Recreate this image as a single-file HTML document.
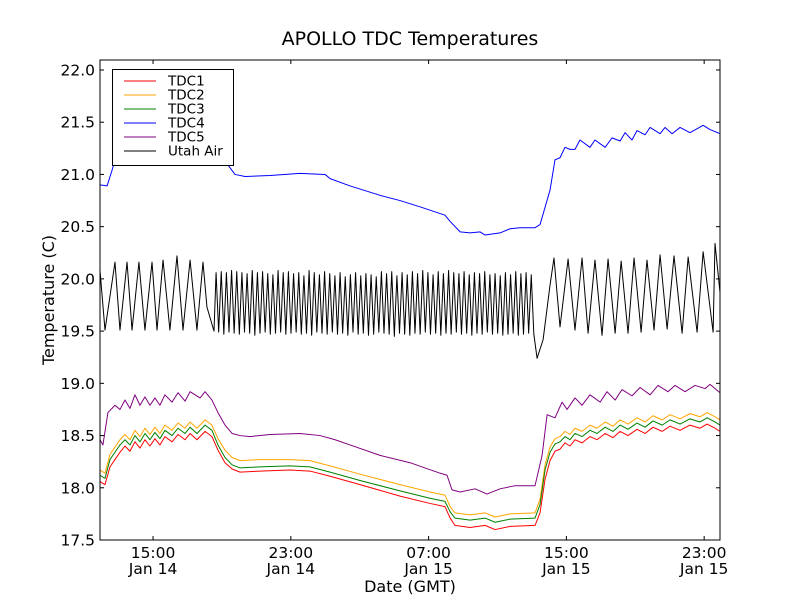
<!DOCTYPE html>
<html><head><meta charset="utf-8"><style>
html,body{margin:0;padding:0;background:#fff;}
svg{display:block;font-family:"DejaVu Sans","Liberation Sans",sans-serif;}
</style></head><body>
<svg id="chart" width="800" height="600" viewBox="0 0 800 600">
<rect x="0" y="0" width="800" height="600" fill="#fff"/>
<text x="410" y="45" font-size="19" text-anchor="middle">APOLLO TDC Temperatures</text>
<text x="410" y="592" font-size="16" text-anchor="middle">Date (GMT)</text>
<text x="54" y="300" font-size="16" text-anchor="middle" transform="rotate(-90 54 300)">Temperature (C)</text>
<defs><clipPath id="plotclip"><rect x="100" y="60" width="620" height="480"/></clipPath></defs>
<g id="series" clip-path="url(#plotclip)"></g>
<g id="axes"></g>
<g id="legend"></g>
</svg>
<script>
// time in hours since 11:55 Jan 14 (GMT)
const xTickPos = [3.08, 11.08, 19.08, 27.08, 35.08];
const xTickTime = ["15:00","23:00","07:00","15:00","23:00"];
const xTickDay = ["Jan 14","Jan 14","Jan 15","Jan 15","Jan 15"];
const yTicks = [17.5,18.0,18.5,19.0,19.5,20.0,20.5,21.0,21.5,22.0];
const yTickLabels = ["17.5","18.0","18.5","19.0","19.5","20.0","20.5","21.0","21.5","22.0"];

const tdcT = [0,.29,.58,.87,1.16,1.45,1.74,2.03,2.32,2.61,2.90,3.19,3.48,3.77,4.18,4.53,4.94,5.23,5.63,6.10,6.50,6.85,7.26,7.67,8.13,9.29,11.03,12.19,13.36,15.10,17.42,19.16,20.03,20.33,20.61,21.49,22.36,22.94,23.81,25.26,25.55,25.84,26.13,26.42,26.71,27.00,27.29,27.58,27.99,28.45,28.86,29.33,29.79,30.20,30.66,31.18,31.65,32.11,32.64,33.10,33.68,34.26,34.84,35.25,35.71,36.0];
const tdc1 = [18.06,18.03,18.20,18.27,18.34,18.40,18.35,18.44,18.38,18.46,18.40,18.47,18.41,18.49,18.44,18.51,18.46,18.52,18.46,18.54,18.49,18.36,18.24,18.18,18.15,18.16,18.17,18.16,18.11,18.03,17.92,17.85,17.82,17.71,17.64,17.62,17.64,17.60,17.63,17.64,17.76,18.08,18.26,18.35,18.37,18.43,18.40,18.46,18.43,18.49,18.46,18.52,18.48,18.54,18.50,18.56,18.52,18.58,18.54,18.59,18.55,18.60,18.57,18.61,18.57,18.54];
const tdc2 = [18.17,18.14,18.32,18.39,18.46,18.51,18.46,18.55,18.49,18.57,18.51,18.58,18.52,18.60,18.55,18.62,18.57,18.63,18.57,18.65,18.60,18.47,18.36,18.29,18.26,18.27,18.27,18.26,18.21,18.13,18.03,17.96,17.93,17.82,17.76,17.74,17.76,17.72,17.75,17.76,17.89,18.22,18.39,18.47,18.49,18.54,18.51,18.57,18.54,18.60,18.57,18.63,18.59,18.65,18.61,18.67,18.63,18.69,18.65,18.70,18.66,18.71,18.68,18.72,18.68,18.65];
const tdc3 = [18.12,18.09,18.27,18.34,18.41,18.46,18.41,18.50,18.44,18.52,18.46,18.53,18.47,18.55,18.50,18.57,18.52,18.58,18.52,18.60,18.55,18.41,18.29,18.22,18.19,18.20,18.21,18.20,18.15,18.07,17.97,17.90,17.87,17.77,17.71,17.69,17.71,17.67,17.70,17.71,17.84,18.17,18.34,18.42,18.44,18.49,18.46,18.52,18.49,18.55,18.52,18.58,18.54,18.60,18.56,18.62,18.58,18.64,18.60,18.65,18.61,18.66,18.63,18.67,18.63,18.60];

const tdc4T = [0,.41,.70,1.05,7.43,7.84,8.42,9.87,11.61,13.07,13.36,14.52,16.26,17.42,18.58,20.03,20.33,20.91,21.49,22.07,22.36,23.23,23.81,24.39,25.26,25.55,26.13,26.42,26.71,27.00,27.29,27.58,27.87,28.45,28.74,29.33,29.73,30.20,30.49,30.89,31.18,31.65,31.94,32.52,32.81,33.22,33.68,34.26,35.02,35.42,36.0];
const tdc4 = [20.90,20.89,21.04,21.24,21.09,21.0,20.98,20.99,21.01,21.0,20.96,20.89,20.80,20.75,20.69,20.61,20.55,20.45,20.44,20.45,20.42,20.44,20.48,20.49,20.49,20.52,20.85,21.14,21.16,21.26,21.24,21.24,21.33,21.26,21.33,21.26,21.35,21.32,21.40,21.33,21.42,21.38,21.45,21.39,21.45,21.39,21.45,21.40,21.47,21.43,21.39];

const tdc5T = [0,.17,.46,.87,1.16,1.45,1.74,2.03,2.32,2.61,2.90,3.19,3.48,3.77,4.18,4.53,4.94,5.23,5.81,6.10,6.50,6.85,7.26,7.67,8.13,8.71,9.87,11.61,12.78,13.65,14.52,16.26,18.00,19.74,20.15,20.44,20.91,21.78,22.47,23.23,24.10,25.26,25.67,25.96,26.42,26.83,27.12,27.58,27.99,28.45,29.04,29.44,29.91,30.31,30.89,31.36,31.94,32.40,32.98,33.39,33.97,34.55,35.14,35.42,36.0];
const tdc5 = [18.46,18.41,18.72,18.79,18.75,18.84,18.76,18.89,18.79,18.87,18.79,18.86,18.79,18.89,18.82,18.91,18.83,18.92,18.86,18.92,18.84,18.72,18.60,18.52,18.50,18.49,18.51,18.52,18.50,18.46,18.41,18.31,18.24,18.14,18.12,17.98,17.96,17.99,17.94,17.99,18.02,18.02,18.31,18.70,18.67,18.82,18.75,18.86,18.79,18.89,18.82,18.92,18.84,18.94,18.88,18.96,18.89,18.98,18.92,18.98,18.92,18.98,18.95,18.99,18.91];

const airT = [0,.29,.87,1.16,1.57,1.86,2.26,2.61,3.02,3.31,3.66,4.06,4.47,4.82,5.23,5.63,5.98,6.21,6.62,
6.74,6.89,7.04,7.19,7.34,7.49,7.64,7.79,7.94,8.09,8.24,8.39,8.54,8.69,8.84,8.99,9.14,9.29,9.44,9.59,9.74,9.89,10.04,10.19,10.34,10.49,10.64,10.79,10.94,11.09,11.24,11.39,11.54,11.69,11.84,11.99,12.14,12.29,12.44,12.59,12.74,12.89,13.04,13.19,13.34,13.49,13.64,13.79,13.94,14.09,14.24,14.39,14.54,14.69,14.84,14.99,15.14,15.29,15.44,15.59,15.74,15.89,16.04,16.19,16.34,16.49,16.64,16.79,16.94,17.09,17.24,17.39,17.54,17.69,17.84,17.99,18.14,18.29,18.44,18.59,18.74,18.89,19.04,19.19,19.34,19.49,19.64,19.79,19.94,20.09,20.24,20.39,20.54,20.69,20.84,20.99,21.14,21.29,21.44,21.59,21.74,21.89,22.04,22.19,22.34,22.49,22.64,22.79,22.94,23.09,23.24,23.39,23.54,23.69,23.84,23.99,24.14,24.29,24.44,24.59,24.74,24.89,25.04,25.19,
25.38,25.73,26.13,26.36,26.71,27.18,27.58,27.99,28.34,28.74,29.15,29.50,29.91,30.26,30.66,31.01,31.42,31.76,32.17,32.52,32.93,33.33,33.80,34.15,34.67,35.02,35.60,35.71,36.0];
const airV = [20.08,19.51,20.16,19.51,20.16,19.51,20.16,19.51,20.16,19.51,20.18,19.51,20.22,19.51,20.18,19.51,20.16,19.73,19.50,
20.06,19.49,20.07,19.47,20.06,19.49,20.08,19.48,20.07,19.47,20.06,19.49,20.05,19.48,20.08,19.46,20.06,19.48,20.07,19.49,20.05,19.47,20.04,19.48,20.08,19.49,20.06,19.47,20.07,19.48,20.05,19.49,20.06,19.47,20.03,19.48,20.08,19.46,20.06,19.49,20.04,19.48,20.07,19.47,20.05,19.49,20.03,19.47,20.06,19.48,20.02,19.46,20.04,19.49,20.06,19.47,20.03,19.48,20.05,19.46,20.04,19.47,20.02,19.49,20.07,19.48,20.05,19.47,20.07,19.45,20.03,19.48,20.06,19.47,20.04,19.46,20.07,19.48,20.05,19.47,20.08,19.49,20.06,19.47,20.04,19.48,20.07,19.46,20.05,19.48,20.08,19.47,20.06,19.49,20.05,19.47,20.07,19.48,20.04,19.46,20.06,19.48,20.05,19.47,20.07,19.49,20.04,19.47,20.05,19.48,20.03,19.46,20.06,19.47,20.04,19.48,20.07,19.46,20.05,19.47,20.06,19.48,20.04,19.47,
19.24,19.42,19.94,20.20,19.54,20.19,19.51,20.20,19.48,20.18,19.46,20.19,19.48,20.17,19.48,20.20,19.49,20.18,19.51,20.23,19.52,20.22,19.48,20.21,19.49,20.26,19.49,20.34,19.87];

const NS = "http://www.w3.org/2000/svg";
const PL = 100, PR = 720, PT = 60, PB = 540;
const T0 = 0, T1 = 36, V0 = 17.5, V1 = 22.0;
const yAt22 = 70;
function xScale(t){ return PL + (t - T0) / (T1 - T0) * (PR - PL); }
function yScale(v){ return PB - (v - V0) / (V1 - V0) * (PB - yAt22); }

function mk(tag, attrs, parent){
  const el = document.createElementNS(NS, tag);
  for (const k in attrs) el.setAttribute(k, attrs[k]);
  parent.appendChild(el);
  return el;
}

const seriesG = document.getElementById('series');
function drawLine(ts, vs, color, name){
  const n = Math.min(ts.length, vs.length);
  let d = "";
  for (let i = 0; i < n; i++) d += (i ? "L" : "M") + xScale(ts[i]).toFixed(2) + "," + yScale(vs[i]).toFixed(2);
  const p = mk('path', {d: d, fill: 'none', stroke: color, 'stroke-width': 1, 'stroke-linejoin': 'round'}, seriesG);
  
  
}
drawLine(airT, airV, '#000000', 'utah-air-line');
drawLine(tdc5T, tdc5, '#800080', 'tdc5-line');
drawLine(tdc4T, tdc4, '#0000ff', 'tdc4-line');
drawLine(tdcT, tdc2, '#ffa500', 'tdc2-line');
drawLine(tdcT, tdc3, '#008000', 'tdc3-line');
drawLine(tdcT, tdc1, '#ff0000', 'tdc1-line');

const axesG = document.getElementById('axes');
const frame = mk('rect', {x: PL, y: PT, width: PR - PL, height: PB - PT, fill: 'none', stroke: '#000', 'stroke-width': 1}, axesG);



yTicks.forEach((v, i) => {
  const y = yScale(v);
  const t1 = mk('line', {x1: PL, x2: PL + 4, y1: y, y2: y, stroke: '#000'}, axesG);
  
  
  const t2 = mk('line', {x1: PR - 4, x2: PR, y1: y, y2: y, stroke: '#000'}, axesG);
  
  
  const lb = mk('text', {x: PL - 5, y: y + 5.5, 'font-size': 15.5, 'text-anchor': 'end'}, axesG);
  lb.textContent = yTickLabels[i];
  
  
});

xTickPos.forEach((t, i) => {
  const x = xScale(t);
  const t1 = mk('line', {x1: x, x2: x, y1: PB, y2: PB - 4, stroke: '#000'}, axesG);
  
  
  const t2 = mk('line', {x1: x, x2: x, y1: PT, y2: PT + 4, stroke: '#000'}, axesG);
  
  
  const l1 = mk('text', {x: x, y: 558, 'font-size': 15.5, 'text-anchor': 'middle'}, axesG);
  l1.textContent = xTickTime[i];
  
  
  const l2 = mk('text', {x: x, y: 574, 'font-size': 15.5, 'text-anchor': 'middle'}, axesG);
  l2.textContent = xTickDay[i];
  
  
});

const legG = document.getElementById('legend');
const legBox = mk('rect', {x: 112.5, y: 69.5, width: 121, height: 96, fill: '#fff', stroke: '#000', 'stroke-width': 1}, legG);


const legNames = ["TDC1","TDC2","TDC3","TDC4","TDC5","Utah Air"];
const legColors = ["#ff0000","#ffa500","#008000","#0000ff","#800080","#000000"];
legNames.forEach((nm, i) => {
  const y = 81 + i * 14;
  const ln = mk('line', {x1: 124, x2: 156, y1: y, y2: y, stroke: legColors[i], 'stroke-width': 1}, legG);
  
  
  const tx = mk('text', {x: 168, y: y + 4.5, 'font-size': 13.5}, legG);
  tx.textContent = nm;
  
  
});
</script>
</body></html>
